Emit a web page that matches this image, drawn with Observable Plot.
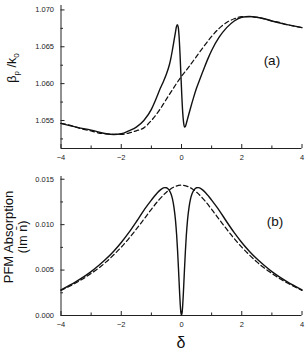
<!DOCTYPE html>
<html><head><meta charset="utf-8">
<script src="https://cdn.jsdelivr.net/npm/d3@7"></script>
<script src="https://cdn.jsdelivr.net/npm/@observablehq/plot@0.6"></script>
<style>
body{margin:0;background:#fff;}
#chart{position:relative;width:306px;height:352px;overflow:hidden;background:#fff;}
#chart svg{position:absolute;left:0;}
</style></head><body><div id="chart"></div>
<script>
// ---- tick values ----
const deltaTicks = [-4, -2, 0, 2, 4];
const deltaMinor = [-3, -1, 1, 3];
const betaTicks = [1.055, 1.060, 1.065, 1.070];
const betaMinor = [1.0525, 1.0575, 1.0625, 1.0675];
const absTicks = [0, 0.005, 0.010, 0.015];
const absMinor = [0.0025, 0.0075, 0.0125];

// ---- panel (a): beta_p / k0 ----
const deltaDashed = [-4,-3.75,-3.5,-3.25,-3,-2.75,-2.5,-2.25,-2,-1.75,-1.5,-1.25,-1,-0.75,-0.5,-0.25,0,
  0.25,0.5,0.75,1,1.25,1.5,1.75,2,2.25,2.5,2.75,3,3.25,3.5,3.75,4];
const betaDashed = [1.0546,1.0544,1.0541,1.0538,1.0536,1.0533,1.0532,1.0531,1.0531,1.0533,1.0536,1.0540,1.0550,1.0563,1.0579,1.0595,1.0610,
  1.0623,1.0637,1.0651,1.0664,1.0675,1.0683,1.0688,1.0691,1.0691,1.0690,1.0688,1.0685,1.0683,1.0680,1.0678,1.0676];
const deltaSolidA = [-4,-3.5,-3,-2.5,-2.25,-2,-1.75,-1.5,-1.25,-1,-0.9,-0.8,-0.7,-0.6,-0.5,-0.4,-0.35,-0.3,-0.25,-0.2,-0.17,-0.14,-0.11,-0.08,-0.05,-0.02,
  0.01,0.04,0.07,0.1,0.13,0.16,0.2,0.3,0.4,0.5,0.6,0.75,0.9,1,1.25,1.5,1.75,2,2.25,2.5,2.75,3,3.5,4];
const betaSolid = [1.0546,1.0541,1.0537,1.0532,1.0531,1.0532,1.0536,1.0541,1.0550,1.0565,1.0574,1.0584,1.0594,1.0603,1.0613,1.0626,1.0635,1.0646,1.0658,1.0670,1.0677,1.0680,1.0677,1.0664,1.0641,1.0612,
  1.0584,1.0561,1.0547,1.0541,1.0542,1.0546,1.0552,1.0567,1.0581,1.0594,1.0605,1.0621,1.0636,1.0645,1.0663,1.0676,1.0685,1.0690,1.0691,1.0690,1.0688,1.0685,1.0680,1.0676];

// ---- panel (b): PFM absorption ----
const absDashed = [0.00276,0.00316,0.00360,0.00408,0.00462,0.00522,0.00590,0.00668,0.00752,0.00846,0.00950,0.01059,0.01169,0.01272,0.01357,0.01414,0.01434,
  0.01414,0.01357,0.01272,0.01169,0.01059,0.00950,0.00846,0.00752,0.00668,0.00590,0.00522,0.00462,0.00408,0.00360,0.00316,0.00276];
const deltaSolidB = [-4,-3.5,-3,-2.75,-2.5,-2.25,-2,-1.75,-1.5,-1.25,-1,-0.9,-0.8,-0.7,-0.6,-0.55,-0.5,-0.45,-0.4,-0.35,-0.3,-0.25,-0.2,-0.16,-0.13,-0.1,-0.08,-0.06,-0.04,-0.02,0,
  0.02,0.04,0.06,0.08,0.1,0.13,0.16,0.2,0.25,0.3,0.35,0.4,0.45,0.5,0.55,0.6,0.7,0.8,0.9,1,1.25,1.5,1.75,2,2.25,2.5,2.75,3,3.5,4];
const absSolid = [0.00282,0.00373,0.00483,0.00550,0.00624,0.00708,0.00804,0.00912,0.01032,0.01158,0.01270,0.01313,0.01352,0.01383,0.01404,0.01408,0.01406,0.01396,0.01375,0.01340,0.01283,0.01190,0.01050,0.00880,0.00713,0.00514,0.00371,0.00232,0.00112,0.00030,0.00005,
  0.00030,0.00112,0.00232,0.00371,0.00514,0.00713,0.00880,0.01050,0.01190,0.01283,0.01340,0.01375,0.01396,0.01406,0.01408,0.01404,0.01383,0.01352,0.01313,0.01270,0.01158,0.01032,0.00912,0.00804,0.00708,0.00624,0.00550,0.00483,0.00373,0.00282];

const panelTags = ["(a)", "(b)"];
const tagDelta = [3.0, 3.1];
const tagValue = [1.0631, 0.0103];

const FONT = 'Arial, "Liberation Sans", sans-serif';
const toRows = (xs, ys) => xs.map((d, i) => ({delta: d, value: ys[i]}));
const chart = document.getElementById("chart");

function axes(yTicks, yMinor, yFmt, yMin) {
  return [
    Plot.ruleX([-4], {stroke: "#222", strokeWidth: 1}),
    Plot.ruleY([yMin], {stroke: "#222", strokeWidth: 1}),
    Plot.axisX(deltaTicks, {tickSize: -4, tickPadding: 10, fontSize: 7.5, fill: "#222", stroke: "#222", tickFormat: d3.format("d"), label: null}),
    Plot.axisX(deltaMinor, {tickSize: -2.5, tickPadding: 0, tickFormat: () => "", stroke: "#222", label: null}),
    Plot.axisY(yTicks, {tickSize: -4, tickPadding: 11, fontSize: 7.5, fill: "#222", stroke: "#222", tickFormat: yFmt, label: null}),
    Plot.axisY(yMinor, {tickSize: -2.5, tickPadding: 0, tickFormat: () => "", stroke: "#222", label: null})
  ];
}

// Panel (a)
const plotA = Plot.plot({
  width: 306, height: 166,
  marginLeft: 60.5, marginRight: 4.5, marginTop: 5, marginBottom: 18,
  style: {fontFamily: FONT, fontSize: "7.5px", color: "#222", background: "white", overflow: "visible"},
  x: {domain: [-4, 4], label: null},
  y: {domain: [1.0512, 1.0706], label: null},
  marks: [
    ...axes(betaTicks, betaMinor, d3.format(".3f"), 1.0512),
    Plot.line(toRows(deltaDashed, betaDashed), {x: "delta", y: "value", stroke: "#111", strokeWidth: 1.25, strokeDasharray: "4.5,3", curve: "monotone-x"}),
    Plot.line(toRows(deltaSolidA, betaSolid), {x: "delta", y: "value", stroke: "#111", strokeWidth: 1.4, curve: "monotone-x"}),
    Plot.text([panelTags[0]], {x: tagDelta[0], y: tagValue[0], fontSize: 13.5, fill: "#111", textAnchor: "middle"})
  ]
});
plotA.style.top = "0px";
chart.appendChild(plotA);

// Panel (b)
const plotB = Plot.plot({
  width: 306, height: 186,
  marginLeft: 60.5, marginRight: 4.5, marginTop: 10, marginBottom: 37,
  style: {fontFamily: FONT, fontSize: "7.5px", color: "#222", background: "white", overflow: "visible"},
  x: {domain: [-4, 4], label: null},
  y: {domain: [0, 0.0153], label: null},
  marks: [
    ...axes(absTicks, absMinor, d3.format(".3f"), 0),
    Plot.line(toRows(deltaDashed, absDashed), {x: "delta", y: "value", stroke: "#111", strokeWidth: 1.25, strokeDasharray: "4.5,3", curve: "monotone-x"}),
    Plot.line(toRows(deltaSolidB, absSolid), {x: "delta", y: "value", stroke: "#111", strokeWidth: 1.4, curve: "monotone-x"}),
    Plot.text([panelTags[1]], {x: tagDelta[1], y: tagValue[1], fontSize: 13.5, fill: "#111", textAnchor: "middle"})
  ]
});
plotB.style.top = "166px";
chart.appendChild(plotB);

// Axis titles
const a = d3.select(plotA);
const tA = a.append("text")
  .attr("transform", "translate(12,68) rotate(-90)")
  .attr("text-anchor", "middle").attr("dy", "0.35em")
  .attr("font-family", FONT).attr("font-size", 12.5).attr("fill", "#111");
tA.append("tspan").text("β");
tA.append("tspan").attr("font-size", 8).attr("dy", 3).text("p");
tA.append("tspan").attr("dy", -3).text(" /k");
tA.append("tspan").attr("font-size", 8).attr("dy", 3).text("0");

const b = d3.select(plotB);
b.append("text").attr("transform", "translate(8,71) rotate(-90)")
  .attr("text-anchor", "middle").attr("dy", "0.35em")
  .attr("font-family", FONT).attr("font-size", 13).attr("fill", "#111")
  .text("PFM Absorption");
b.append("text").attr("transform", "translate(23,71) rotate(-90)")
  .attr("text-anchor", "middle").attr("dy", "0.35em")
  .attr("font-family", FONT).attr("font-size", 12.5).attr("fill", "#111")
  .text("(Im n\u0304)");
b.append("text").attr("x", 181).attr("y", 182)
  .attr("text-anchor", "middle")
  .attr("font-family", FONT).attr("font-size", 16).attr("fill", "#111")
  .text("δ");
</script></body></html>
